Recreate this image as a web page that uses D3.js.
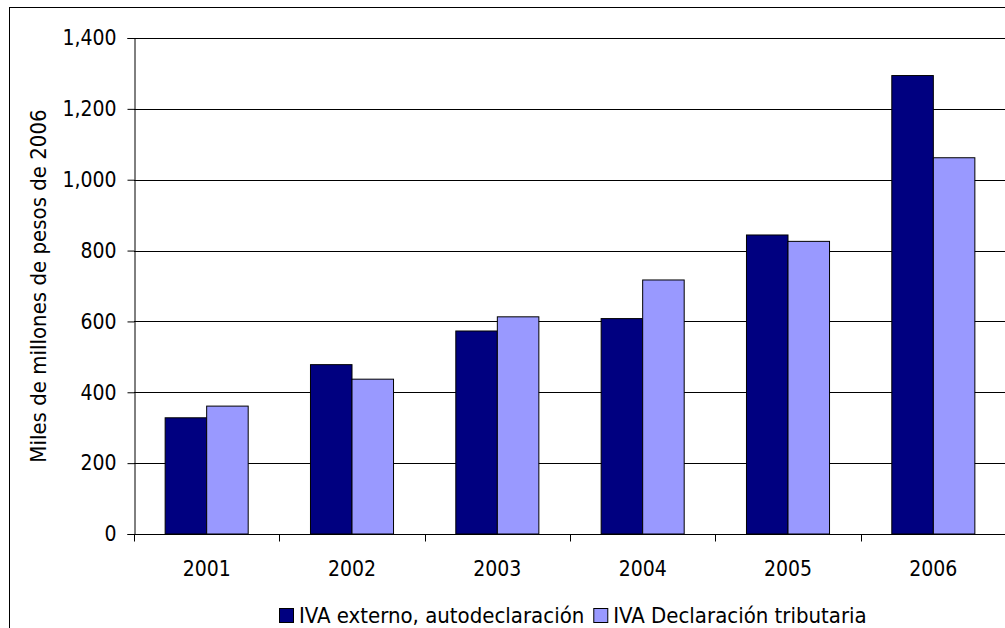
<!DOCTYPE html>
<html>
<head>
<meta charset="utf-8">
<script src="https://cdn.jsdelivr.net/npm/d3@7"></script>
<style>
  html, body { margin: 0; padding: 0; background: #fff; }
  svg { display: block; }
  text { font-family: "DejaVu Sans Condensed", "DejaVu Sans", sans-serif; font-stretch: condensed; fill: #000; }
</style>
</head>
<body>
<svg id="chart" width="1005" height="628"></svg>
<script>
// Data
const years = ["2001", "2002", "2003", "2004", "2005", "2006"];
const ivaExterno = [328, 478, 573, 608, 844, 1294];
const ivaDeclaracion = [361, 437, 613, 717, 826, 1062];
const seriesNames = ["IVA externo, autodeclaración", "IVA Declaración tributaria"];
const seriesColors = ["#000080", "#9999ff"];
const yTicks = [0, 200, 400, 600, 800, 1000, 1200, 1400];
const yTitle = "Miles de millones de pesos de 2006";

const FONT = "21px";
const FONT_LG = "22px";
const svg = d3.select("#chart");
const W = 1005, H = 628;

// Outer chart frame
svg.append("rect")
  .attr("x", 9.5).attr("y", 7.5)
  .attr("width", W + 10).attr("height", H + 10)
  .attr("fill", "#fff").attr("stroke", "#000").attr("stroke-width", 1);

const plot = { left: 134, right: 1006, top: 38, bottom: 534 };

const x0 = d3.scaleBand().domain(years)
  .range([plot.left, plot.right]).paddingInner(0).paddingOuter(0);
const inner = 1 / (2 + 1.5); // gap width 150%
const y = d3.scaleLinear().domain([0, 1400]).range([plot.bottom, plot.top]);

// Gridlines
svg.append("g").selectAll("line").data(yTicks.filter(d => d > 0)).join("line")
  .attr("x1", plot.left).attr("x2", plot.right)
  .attr("y1", d => Math.round(y(d)) + 0.5).attr("y2", d => Math.round(y(d)) + 0.5)
  .attr("stroke", "#000").attr("stroke-width", 1);

// Bars
const bw = x0.bandwidth() * inner;
const groups = svg.append("g").selectAll("g").data(years).join("g");
[ivaExterno, ivaDeclaracion].forEach((vals, si) => {
  groups.append("rect")
    .attr("x", (d, i) => x0(d) + x0.bandwidth() * 0.75 * inner + si * bw)
    .attr("y", (d, i) => y(vals[i]))
    .attr("width", bw)
    .attr("height", (d, i) => y(0) - y(vals[i]))
    .attr("fill", seriesColors[si])
    .attr("stroke", "#000").attr("stroke-width", 1);
});

// Y axis
const yAxis = d3.axisLeft(y).tickValues(yTicks).tickSize(7).tickPadding(11)
  .tickFormat(d3.format(","));
const gy = svg.append("g").attr("transform", `translate(${plot.left + 0.5},0)`).call(yAxis);
gy.attr("font-family", null).attr("font-size", null);
gy.selectAll("path.domain").attr("stroke", "#000");
gy.selectAll("line").attr("stroke", "#000");
gy.selectAll("text").style("font-size", FONT);

// X axis with ticks at category boundaries
const gx = svg.append("g").attr("transform", `translate(0,${plot.bottom + 0.5})`);
gx.append("line").attr("x1", plot.left).attr("x2", plot.right)
  .attr("stroke", "#000");
gx.selectAll("line.tk").data(years.concat(["end"])).join("line").attr("class", "tk")
  .attr("x1", (d, i) => Math.round(plot.left + i * x0.bandwidth()) + 0.5)
  .attr("x2", (d, i) => Math.round(plot.left + i * x0.bandwidth()) + 0.5)
  .attr("y1", 0).attr("y2", 7).attr("stroke", "#000");
gx.selectAll("text").data(years).join("text")
  .attr("x", d => x0(d) + x0.bandwidth() / 2)
  .attr("y", 41)
  .attr("text-anchor", "middle")
  .style("font-size", FONT)
  .text(d => d);

// Y axis title
svg.append("text")
  .attr("transform", `translate(46,${(plot.top + plot.bottom) / 2}) rotate(-90)`)
  .attr("text-anchor", "middle")
  .style("font-size", FONT_LG)
  .text(yTitle);

// Legend
const legend = svg.append("g");
let lx = 279;
seriesNames.forEach((name, i) => {
  legend.append("rect")
    .attr("x", lx + 0.5).attr("y", 608.5).attr("width", 14).attr("height", 14)
    .attr("fill", seriesColors[i]).attr("stroke", "#000");
  const t = legend.append("text")
    .attr("x", lx + 20).attr("y", 623)
    .style("font-size", FONT_LG)
    .text(name);
  lx += 20 + t.node().getComputedTextLength() + 9;
});
</script>
</body>
</html>
